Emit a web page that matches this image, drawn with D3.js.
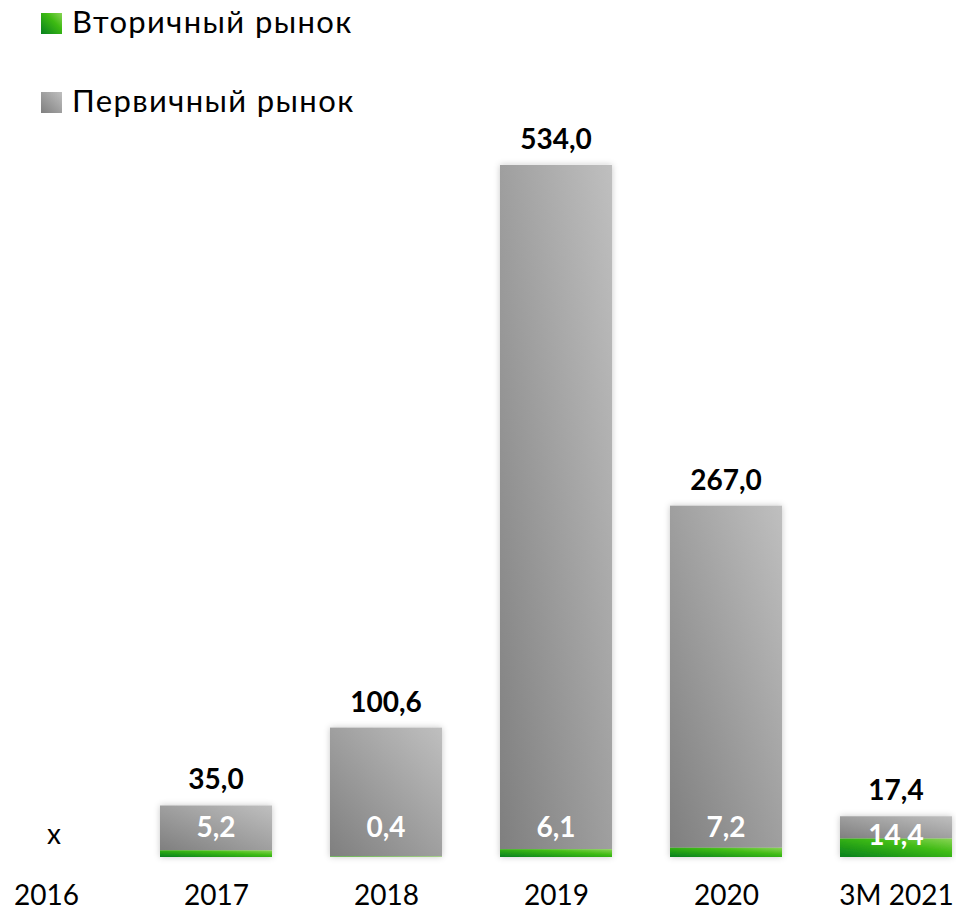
<!DOCTYPE html>
<html>
<head>
<meta charset="utf-8">
<script src="https://cdn.jsdelivr.net/npm/d3@7/dist/d3.min.js"></script>
<style>
  html, body { margin: 0; padding: 0; background: #fff; }
  svg { display: block; font-family: Lato, "Open Sans", "Noto Sans", sans-serif; }
</style>
</head>
<body>
<svg id="chart" width="956" height="912"></svg>
<script>
// Market volumes by year: primary (gray) stacked above secondary (green)
const categories = ["2016", "2017", "2018", "2019", "2020", "3M 2021"];
const primary    = [null, 35.0, 100.6, 534.0, 267.0, 17.4];
const secondary  = [null, 5.2, 0.4, 6.1, 7.2, 14.4];
const legendLabels = ["Вторичный рынок", "Первичный рынок"];
const missingMark = "x";

const fmt = v => v.toFixed(1).replace(".", ",");

const svg = d3.select("#chart");
const baseY = 857;

const x = d3.scalePoint().domain(categories).range([46, 896]);
const barW = 112;
const y = d3.scaleLinear().domain([0, 600]).range([baseY, baseY - 600 * 1.2813]);

const defs = svg.append("defs");

const gray = defs.append("linearGradient").attr("id", "gGray")
  .attr("x1", 0).attr("y1", 1).attr("x2", 1).attr("y2", 0);
gray.append("stop").attr("offset", 0).attr("stop-color", "#7f7f7f");
gray.append("stop").attr("offset", 1).attr("stop-color", "#bfbfbf");

const green = defs.append("linearGradient").attr("id", "gGreen")
  .attr("x1", 0).attr("y1", 1).attr("x2", 1).attr("y2", 0);
green.append("stop").attr("offset", 0).attr("stop-color", "#07801f");
green.append("stop").attr("offset", 0.6).attr("stop-color", "#3dba12");
green.append("stop").attr("offset", 1).attr("stop-color", "#88d454");

const shadow = defs.append("filter").attr("id", "shadow")
  .attr("x", "-20%").attr("y", "-20%").attr("width", "140%").attr("height", "140%");
shadow.append("feDropShadow").attr("dx", 0).attr("dy", 0)
  .attr("stdDeviation", 3).attr("flood-color", "#000").attr("flood-opacity", 0.22);

// Legend
const legend = svg.append("g");
const legendFills = ["url(#gGreen)", "url(#gGray)"];
const legendY = [23, 102];
legendLabels.forEach((lab, i) => {
  legend.append("rect").attr("x", 41).attr("y", legendY[i] - 10)
    .attr("width", 21).attr("height", 21).attr("fill", legendFills[i]);
  legend.append("text").attr("x", 72).attr("y", legendY[i] + 10)
    .attr("font-size", 31).attr("letter-spacing", 1.4)
    .attr("fill", "#000").text(lab);
});

const rows = categories.map((c, i) => ({ c, p: primary[i], s: secondary[i] }));
const withData = rows.filter(d => d.p != null);

// Bars
const bars = svg.append("g");
const groups = bars.selectAll("g").data(withData).join("g").attr("filter", "url(#shadow)");
groups.append("rect")
  .attr("x", d => x(d.c) - barW / 2)
  .attr("y", d => y(d.s + d.p))
  .attr("width", barW)
  .attr("height", d => y(d.s) - y(d.s + d.p))
  .attr("fill", "url(#gGray)");
groups.append("rect")
  .attr("x", d => x(d.c) - barW / 2)
  .attr("y", d => y(d.s))
  .attr("width", barW)
  .attr("height", d => y(0) - y(d.s))
  .attr("fill", "url(#gGreen)");

// Primary value above each bar
svg.append("g").selectAll("text").data(withData).join("text")
  .attr("x", d => x(d.c))
  .attr("y", d => y(d.s + d.p) - 16)
  .attr("text-anchor", "middle")
  .attr("font-size", 28).attr("font-weight", "bold").attr("fill", "#000")
  .text(d => fmt(d.p));

// Secondary value inside the bar
svg.append("g").selectAll("text").data(withData).join("text")
  .attr("x", d => x(d.c))
  .attr("y", d => (y(0) - y(d.s) > 12 ? y(d.s) + 6 : y(0) - 20))
  .attr("text-anchor", "middle")
  .attr("font-size", 28).attr("font-weight", "bold").attr("fill", "#fff")
  .text(d => fmt(d.s));

// Missing data marker
svg.append("g").selectAll("text").data(rows.filter(d => d.p == null)).join("text")
  .attr("x", d => x(d.c) + 8)
  .attr("y", baseY - 13)
  .attr("text-anchor", "middle")
  .attr("font-size", 28).attr("fill", "#000")
  .text(missingMark);

// Category axis
const axis = svg.append("g").attr("transform", `translate(0,${baseY + 30})`)
  .call(d3.axisBottom(x).tickSize(0).tickPadding(0));
axis.select(".domain").remove();
axis.selectAll("text").attr("font-size", 28).attr("fill", "#000")
  .attr("font-family", 'Lato, "Open Sans", "Noto Sans", sans-serif')
  .attr("dy", "0.66em");
</script>
</body>
</html>
